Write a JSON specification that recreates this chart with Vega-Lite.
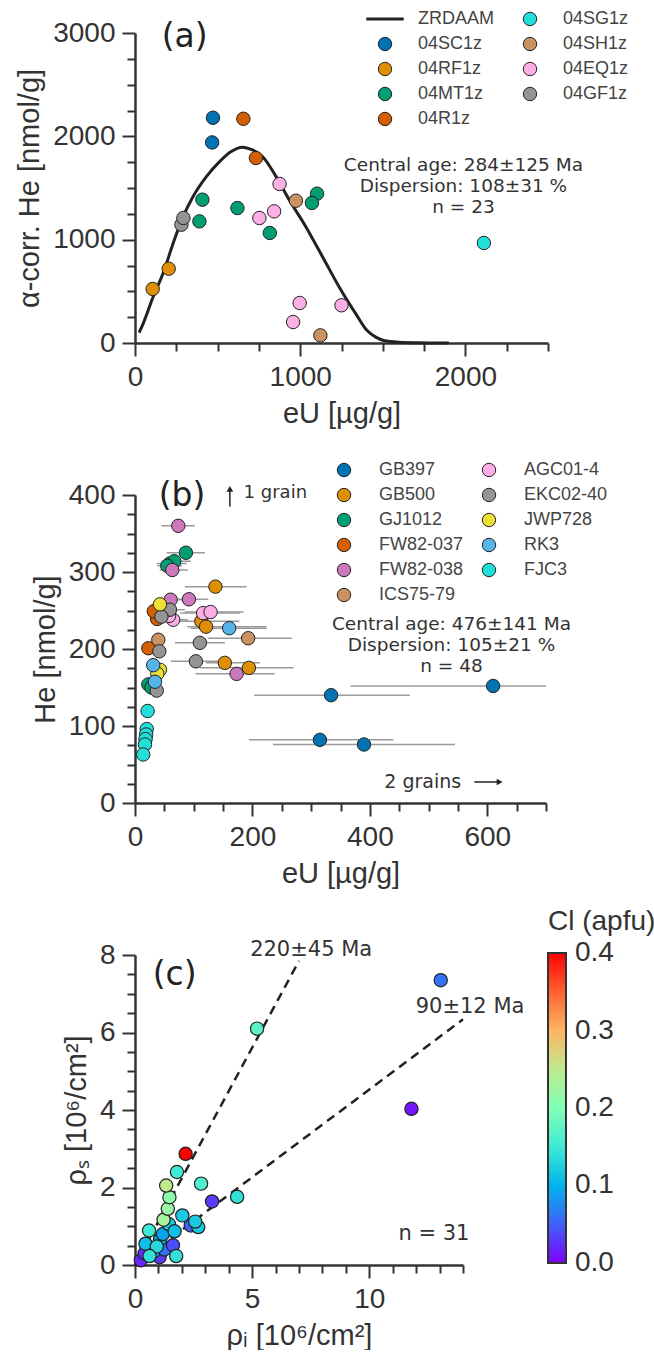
{
  "$schema": "https://vega.github.io/schema/vega-lite/v6.json",
  "background": "white",
  "padding": {"left": 15, "top": 10, "right": 0, "bottom": 0},
  "bounds": "flush",
  "spacing": 152,
  "config": {
    "view": {"stroke": null},
    "font": "Liberation Sans",
    "axis": {
      "domainColor": "#333", "domainWidth": 2.5,
      "tickColor": "#333", "tickWidth": 2, "tickSize": 13,
      "labelFont": "Liberation Sans", "labelFontSize": 28, "labelColor": "#333", "labelPadding": 7,
      "labelFlush": false, "labelOverlap": false, "format": "d",
      "titleFont": "Liberation Sans", "titleFontSize": 29, "titleFontWeight": "normal", "titleColor": "#333", "titlePadding": 8,
      "grid": false
    }
  },
  "datasets": {
    "zrdaam": [
      {"eU": 25, "He": 100}, {"eU": 50, "He": 190}, {"eU": 110, "He": 448}, {"eU": 170, "He": 675},
      {"eU": 231, "He": 965}, {"eU": 291, "He": 1223}, {"eU": 351, "He": 1416}, {"eU": 432, "He": 1610},
      {"eU": 512, "He": 1755}, {"eU": 580, "He": 1850}, {"eU": 650, "He": 1895}, {"eU": 711, "He": 1868},
      {"eU": 773, "He": 1803}, {"eU": 854, "He": 1610}, {"eU": 934, "He": 1384}, {"eU": 1034, "He": 1126},
      {"eU": 1135, "He": 835}, {"eU": 1235, "He": 545}, {"eU": 1335, "He": 287}, {"eU": 1405, "He": 120},
      {"eU": 1460, "He": 55}, {"eU": 1506, "He": 25}, {"eU": 1600, "He": 8}, {"eU": 1705, "He": 3}, {"eU": 1900, "He": 0}
    ],
    "grainsA": [
      {"sample": "04SC1z", "eU": 472, "He": 2180}, {"sample": "04SC1z", "eU": 467, "He": 1941},
      {"sample": "04RF1z", "eU": 204, "He": 719}, {"sample": "04RF1z", "eU": 107, "He": 523},
      {"sample": "04MT1z", "eU": 1102, "He": 1445}, {"sample": "04MT1z", "eU": 1071, "He": 1355},
      {"sample": "04MT1z", "eU": 408, "He": 1387}, {"sample": "04MT1z", "eU": 390, "He": 1177},
      {"sample": "04MT1z", "eU": 620, "He": 1306}, {"sample": "04MT1z", "eU": 816, "He": 1065},
      {"sample": "04R1z", "eU": 656, "He": 2170}, {"sample": "04R1z", "eU": 732, "He": 1790},
      {"sample": "04SG1z", "eU": 2112, "He": 968},
      {"sample": "04SH1z", "eU": 974, "He": 1377}, {"sample": "04SH1z", "eU": 1122, "He": 74},
      {"sample": "04EQ1z", "eU": 875, "He": 1539}, {"sample": "04EQ1z", "eU": 753, "He": 1210},
      {"sample": "04EQ1z", "eU": 842, "He": 1274}, {"sample": "04EQ1z", "eU": 997, "He": 387},
      {"sample": "04EQ1z", "eU": 957, "He": 203}, {"sample": "04EQ1z", "eU": 1250, "He": 365},
      {"sample": "04GF1z", "eU": 281, "He": 1145}, {"sample": "04GF1z", "eU": 293, "He": 1210}
    ],
    "notesA": [
      {"eU": 1988, "He": 1723, "note": "Central age: 284±125 Ma"},
      {"eU": 1988, "He": 1520, "note": "Dispersion: 108±31 %"},
      {"eU": 1988, "He": 1317, "note": "n = 23"}
    ],
    "grainsB": [
      {"sample": "GB397", "eU": 610, "He": 152, "lo": 367, "hi": 700},
      {"sample": "GB397", "eU": 334, "He": 140, "lo": 203, "hi": 468},
      {"sample": "GB397", "eU": 315, "He": 82, "lo": 194, "hi": 440},
      {"sample": "GB397", "eU": 390, "He": 76, "lo": 235, "hi": 545},
      {"sample": "GB500", "eU": 137, "He": 281, "lo": 85, "hi": 190},
      {"sample": "GB500", "eU": 113, "He": 236, "lo": 75, "hi": 178},
      {"sample": "GB500", "eU": 121, "He": 229, "lo": 89, "hi": 224},
      {"sample": "GB500", "eU": 153, "He": 182, "lo": 121, "hi": 213},
      {"sample": "GB500", "eU": 194, "He": 175.5, "lo": 110, "hi": 270},
      {"sample": "GB500", "eU": 38, "He": 248},
      {"sample": "GJ1012", "eU": 86.7, "He": 325, "lo": 54, "hi": 119},
      {"sample": "GJ1012", "eU": 59.5, "He": 311, "lo": 37, "hi": 88},
      {"sample": "GJ1012", "eU": 67, "He": 314, "lo": 45, "hi": 95},
      {"sample": "GJ1012", "eU": 55, "He": 308, "lo": 38, "hi": 80},
      {"sample": "GJ1012", "eU": 22.7, "He": 154},
      {"sample": "GJ1012", "eU": 28, "He": 150},
      {"sample": "FW82-037", "eU": 37.7, "He": 239},
      {"sample": "FW82-037", "eU": 32, "He": 249},
      {"sample": "FW82-037", "eU": 22.7, "He": 201},
      {"sample": "FW82-038", "eU": 73.7, "He": 360, "lo": 45, "hi": 102},
      {"sample": "FW82-038", "eU": 63.5, "He": 302.6, "lo": 42, "hi": 90},
      {"sample": "FW82-038", "eU": 60.7, "He": 264, "lo": 40, "hi": 85},
      {"sample": "FW82-038", "eU": 91.8, "He": 264.6, "lo": 60, "hi": 125},
      {"sample": "FW82-038", "eU": 173, "He": 167.7, "lo": 103, "hi": 238},
      {"sample": "ICS75-79", "eU": 192.7, "He": 214, "lo": 124, "hi": 267},
      {"sample": "ICS75-79", "eU": 39.7, "He": 212},
      {"sample": "AGC01-4", "eU": 65, "He": 238, "lo": 45, "hi": 90},
      {"sample": "AGC01-4", "eU": 116, "He": 246.6, "lo": 77, "hi": 179},
      {"sample": "AGC01-4", "eU": 128.7, "He": 248, "lo": 85, "hi": 185},
      {"sample": "AGC01-4", "eU": 58, "He": 243},
      {"sample": "EKC02-40", "eU": 59.5, "He": 251, "lo": 40, "hi": 85},
      {"sample": "EKC02-40", "eU": 110.5, "He": 208, "lo": 68, "hi": 153},
      {"sample": "EKC02-40", "eU": 103.7, "He": 184, "lo": 61, "hi": 153},
      {"sample": "EKC02-40", "eU": 41.4, "He": 197},
      {"sample": "EKC02-40", "eU": 37, "He": 146},
      {"sample": "EKC02-40", "eU": 45, "He": 242},
      {"sample": "JWP728", "eU": 42.5, "He": 258},
      {"sample": "JWP728", "eU": 42.5, "He": 173},
      {"sample": "JWP728", "eU": 38, "He": 168},
      {"sample": "RK3", "eU": 160.4, "He": 227, "lo": 95, "hi": 224},
      {"sample": "RK3", "eU": 31, "He": 179},
      {"sample": "RK3", "eU": 34, "He": 157.5},
      {"sample": "FJC3", "eU": 21.5, "He": 119.5},
      {"sample": "FJC3", "eU": 20, "He": 96},
      {"sample": "FJC3", "eU": 19, "He": 89},
      {"sample": "FJC3", "eU": 18, "He": 83},
      {"sample": "FJC3", "eU": 17, "He": 76},
      {"sample": "FJC3", "eU": 14, "He": 63}
    ],
    "notesB": [
      {"eU": 539, "He": 232.5, "note": "Central age: 476±141 Ma"},
      {"eU": 539, "He": 205, "note": "Dispersion: 105±21 %"},
      {"eU": 539, "He": 178, "note": "n = 48"}
    ],
    "grainsC": [
      {"ri": 13.05, "rs": 7.35, "Cl": 0.06},
      {"ri": 11.8, "rs": 4.03, "Cl": 0.01},
      {"ri": 5.21, "rs": 6.1, "Cl": 0.17},
      {"ri": 0.25, "rs": 0.12, "Cl": 0.02},
      {"ri": 1.05, "rs": 0.2, "Cl": 0.03},
      {"ri": 0.41, "rs": 0.3, "Cl": 0.02},
      {"ri": 0.8, "rs": 0.35, "Cl": 0.08},
      {"ri": 1.25, "rs": 0.4, "Cl": 0.06},
      {"ri": 1.62, "rs": 0.51, "Cl": 0.04},
      {"ri": 0.45, "rs": 0.55, "Cl": 0.11},
      {"ri": 1.07, "rs": 0.66, "Cl": 0.1},
      {"ri": 1.19, "rs": 0.8, "Cl": 0.09},
      {"ri": 2.38, "rs": 1.02, "Cl": 0.05},
      {"ri": 1.45, "rs": 1.05, "Cl": 0.12},
      {"ri": 0.93, "rs": 0.48, "Cl": 0.13},
      {"ri": 0.62, "rs": 0.23, "Cl": 0.14},
      {"ri": 1.76, "rs": 0.23, "Cl": 0.14},
      {"ri": 0.6, "rs": 0.89, "Cl": 0.15},
      {"ri": 1.69, "rs": 0.87, "Cl": 0.11},
      {"ri": 2.7, "rs": 0.98, "Cl": 0.12},
      {"ri": 2.57, "rs": 1.12, "Cl": 0.12},
      {"ri": 2.02, "rs": 1.28, "Cl": 0.12},
      {"ri": 1.22, "rs": 1.17, "Cl": 0.23},
      {"ri": 1.4, "rs": 1.45, "Cl": 0.22},
      {"ri": 1.47, "rs": 1.75, "Cl": 0.21},
      {"ri": 3.29, "rs": 1.64, "Cl": 0.03},
      {"ri": 4.36, "rs": 1.76, "Cl": 0.14},
      {"ri": 2.82, "rs": 2.1, "Cl": 0.16},
      {"ri": 1.33, "rs": 2.05, "Cl": 0.25},
      {"ri": 1.79, "rs": 2.4, "Cl": 0.15},
      {"ri": 2.16, "rs": 2.87, "Cl": 0.4}
    ],
    "isochrons": [
      {"line": "220 Ma", "ri": 0, "rs": 0}, {"line": "220 Ma", "ri": 7.0, "rs": 7.85},
      {"line": "90 Ma", "ri": 0, "rs": 0}, {"line": "90 Ma", "ri": 14, "rs": 6.34}
    ],
    "notesC": [
      {"ri": 7.52, "rs": 8.13, "note": "220±45 Ma"},
      {"ri": 14.3, "rs": 6.66, "note": "90±12 Ma"},
      {"ri": 12.76, "rs": 0.8, "note": "n = 31"}
    ]
  },
  "vconcat": [
    {
      "width": 413,
      "height": 310,
      "resolve": {"axis": {"x": "independent", "y": "independent"}},
      "layer": [
        {
          "data": {"name": "zrdaam"},
          "mark": {"type": "line", "color": "#222", "strokeWidth": 3, "interpolate": "monotone"},
          "encoding": {
            "x": {"field": "eU", "type": "quantitative", "scale": {"domain": [0, 2500], "nice": false},
                  "axis": {"orient": "bottom", "values": [250, 500, 750, 1250, 1500, 1750, 2250, 2500], "labels": false, "domain": false, "tickSize": 8, "title": null}},
            "y": {"field": "He", "type": "quantitative", "scale": {"domain": [0, 3000], "nice": false},
                  "axis": {"orient": "left", "values": [250, 500, 750, 1250, 1500, 1750, 2250, 2500, 2750], "labels": false, "domain": false, "tickSize": 8, "title": null}}
          }
        },
        {
          "data": {"name": "grainsA"},
          "mark": {"type": "point", "shape": "circle", "filled": true, "size": 180, "stroke": "#222", "strokeWidth": 1, "opacity": 1},
          "encoding": {
            "x": {"field": "eU", "type": "quantitative", "scale": {"domain": [0, 2500], "nice": false},
                  "axis": {"orient": "bottom", "values": [0, 1000, 2000], "title": "eU [µg/g]"}},
            "y": {"field": "He", "type": "quantitative", "scale": {"domain": [0, 3000], "nice": false},
                  "axis": {"orient": "left", "values": [0, 1000, 2000, 3000], "title": "α-corr. He [nmol/g]"}},
            "color": {
              "field": "sample", "type": "nominal",
              "scale": {
                "domain": ["ZRDAAM", "04SC1z", "04RF1z", "04MT1z", "04R1z", "04SG1z", "04SH1z", "04EQ1z", "04GF1z"],
                "range": ["#222222", "#0173b2", "#de8f05", "#029e73", "#d55e00", "#22e0d9", "#ca9161", "#fbafe4", "#949494"]
              },
              "legend": {
                "title": null, "orient": "none", "legendX": 241, "legendY": -23,
                "columns": 2, "columnPadding": 27, "rowPadding": 7, "padding": 0,
                "symbolSize": 180, "symbolType": "circle", "symbolStrokeColor": "#222", "symbolStrokeWidth": 1, "symbolOpacity": 1,
                "labelFont": "Liberation Sans", "labelFontSize": 18, "labelColor": "#444", "labelOffset": 24,
                "encode": {
                  "symbols": {
                    "update": {
                      "shape": {"signal": "datum.value === 'ZRDAAM' ? 'stroke' : 'circle'"},
                      "size": {"signal": "datum.value === 'ZRDAAM' ? 1400 : 180"},
                      "strokeWidth": {"signal": "datum.value === 'ZRDAAM' ? 3 : 1"},
                      "stroke": {"value": "#222"}
                    }
                  }
                }
              }
            }
          }
        },
        {
          "data": {"name": "notesA"},
          "mark": {"type": "text", "font": "DejaVu Sans", "fontSize": 18.5, "color": "#333", "align": "center", "baseline": "middle"},
          "encoding": {
            "x": {"field": "eU", "type": "quantitative", "axis": null},
            "y": {"field": "He", "type": "quantitative", "axis": null},
            "text": {"field": "note"}
          }
        },
        {
          "data": {"values": [{"eU": 301, "He": 2962, "note": "(a)"}]},
          "mark": {"type": "text", "font": "DejaVu Sans", "fontSize": 33, "color": "#222", "align": "center", "baseline": "middle"},
          "encoding": {
            "x": {"field": "eU", "type": "quantitative", "axis": null},
            "y": {"field": "He", "type": "quantitative", "axis": null},
            "text": {"field": "note"}
          }
        }
      ]
    },
    {
      "width": 411,
      "height": 308,
      "resolve": {"axis": {"x": "independent", "y": "independent"}},
      "layer": [
        {
          "data": {"name": "grainsB"},
          "transform": [{"filter": "isValid(datum.lo)"}],
          "mark": {"type": "rule", "color": "#9a9a9a", "strokeWidth": 1.5, "clip": true},
          "encoding": {
            "x": {"field": "lo", "type": "quantitative", "scale": {"domain": [0, 700], "nice": false},
                  "axis": {"orient": "bottom", "values": [50, 100, 150, 250, 300, 350, 450, 500, 550, 650, 700], "labels": false, "domain": false, "tickSize": 8, "title": null}},
            "x2": {"field": "hi"},
            "y": {"field": "He", "type": "quantitative", "scale": {"domain": [0, 400], "nice": false},
                  "axis": {"orient": "left", "values": [25, 50, 75, 125, 150, 175, 225, 250, 275, 325, 350, 375], "labels": false, "domain": false, "tickSize": 8, "title": null}}
          }
        },
        {
          "data": {"name": "grainsB"},
          "mark": {"type": "point", "shape": "circle", "filled": true, "size": 180, "stroke": "#222", "strokeWidth": 1, "opacity": 1},
          "encoding": {
            "x": {"field": "eU", "type": "quantitative", "scale": {"domain": [0, 700], "nice": false},
                  "axis": {"orient": "bottom", "values": [0, 200, 400, 600], "title": "eU [µg/g]"}},
            "y": {"field": "He", "type": "quantitative", "scale": {"domain": [0, 400], "nice": false},
                  "axis": {"orient": "left", "values": [0, 100, 200, 300, 400], "title": "He [nmol/g]"}},
            "color": {
              "field": "sample", "type": "nominal",
              "scale": {
                "domain": ["GB397", "GB500", "GJ1012", "FW82-037", "FW82-038", "ICS75-79", "AGC01-4", "EKC02-40", "JWP728", "RK3", "FJC3"],
                "range": ["#0173b2", "#de8f05", "#029e73", "#d55e00", "#cc78bc", "#ca9161", "#fbafe4", "#949494", "#ece133", "#56b4e9", "#22e0d9"]
              },
              "legend": {
                "title": null, "orient": "none", "legendX": 200, "legendY": -34,
                "columns": 2, "columnPadding": 16, "rowPadding": 7, "padding": 0,
                "symbolSize": 180, "symbolType": "circle", "symbolStrokeColor": "#222", "symbolStrokeWidth": 1, "symbolOpacity": 1,
                "labelFont": "Liberation Sans", "labelFontSize": 18, "labelColor": "#444", "labelOffset": 26
              }
            }
          }
        },
        {
          "data": {"name": "notesB"},
          "mark": {"type": "text", "font": "DejaVu Sans", "fontSize": 18.5, "color": "#333", "align": "center", "baseline": "middle"},
          "encoding": {
            "x": {"field": "eU", "type": "quantitative", "axis": null},
            "y": {"field": "He", "type": "quantitative", "axis": null},
            "text": {"field": "note"}
          }
        },
        {
          "data": {"values": [{"eU": 185, "He": 402, "note": "1 grain"}]},
          "mark": {"type": "text", "font": "DejaVu Sans", "fontSize": 18, "color": "#333", "align": "left", "baseline": "middle"},
          "encoding": {
            "x": {"field": "eU", "type": "quantitative", "axis": null},
            "y": {"field": "He", "type": "quantitative", "axis": null},
            "text": {"field": "note"}
          }
        },
        {
          "data": {"values": [{"eU": 490, "He": 27.3, "note": "2 grains"}]},
          "mark": {"type": "text", "font": "DejaVu Sans", "fontSize": 19, "color": "#333", "align": "center", "baseline": "middle"},
          "encoding": {
            "x": {"field": "eU", "type": "quantitative", "axis": null},
            "y": {"field": "He", "type": "quantitative", "axis": null},
            "text": {"field": "note"}
          }
        },
        {
          "data": {"values": [
            {"eU": 161.6, "He": 385, "eU2": 161.6, "He2": 406},
            {"eU": 578, "He": 27.3, "eU2": 619, "He2": 27.3}
          ]},
          "mark": {"type": "rule", "color": "#222", "strokeWidth": 1.5},
          "encoding": {
            "x": {"field": "eU", "type": "quantitative", "axis": null},
            "x2": {"field": "eU2"},
            "y": {"field": "He", "type": "quantitative", "axis": null},
            "y2": {"field": "He2"}
          }
        },
        {
          "data": {"values": [{"eU": 161.6, "He": 408}]},
          "mark": {"type": "point", "shape": "triangle-up", "filled": true, "size": 45, "color": "#222", "opacity": 1},
          "encoding": {
            "x": {"field": "eU", "type": "quantitative", "axis": null},
            "y": {"field": "He", "type": "quantitative", "axis": null}
          }
        },
        {
          "data": {"values": [{"eU": 621, "He": 27.3}]},
          "mark": {"type": "point", "shape": "triangle-right", "filled": true, "size": 45, "color": "#222", "opacity": 1},
          "encoding": {
            "x": {"field": "eU", "type": "quantitative", "axis": null},
            "y": {"field": "He", "type": "quantitative", "axis": null}
          }
        },
        {
          "data": {"values": [{"eU": 80, "He": 398.7, "note": "(b)"}]},
          "mark": {"type": "text", "font": "DejaVu Sans", "fontSize": 33, "color": "#222", "align": "center", "baseline": "middle"},
          "encoding": {
            "x": {"field": "eU", "type": "quantitative", "axis": null},
            "y": {"field": "He", "type": "quantitative", "axis": null},
            "text": {"field": "note"}
          }
        }
      ]
    },
    {
      "width": 328,
      "height": 310,
      "resolve": {"axis": {"x": "independent", "y": "independent"}},
      "layer": [
        {
          "data": {"name": "isochrons"},
          "mark": {"type": "line", "color": "#222", "strokeWidth": 2.5, "strokeDash": [9, 6]},
          "encoding": {
            "x": {"field": "ri", "type": "quantitative", "scale": {"domain": [0, 14], "nice": false},
                  "axis": {"orient": "bottom", "values": [1, 2, 3, 4, 6, 7, 8, 9, 11, 12, 13, 14], "labels": false, "domain": false, "tickSize": 8, "title": null}},
            "y": {"field": "rs", "type": "quantitative", "scale": {"domain": [0, 8], "nice": false},
                  "axis": {"orient": "left", "values": [0.5, 1, 1.5, 2.5, 3, 3.5, 4.5, 5, 5.5, 6.5, 7, 7.5], "labels": false, "domain": false, "tickSize": 8, "title": null}},
            "detail": {"field": "line"}
          }
        },
        {
          "data": {"name": "grainsC"},
          "mark": {"type": "point", "shape": "circle", "filled": true, "size": 175, "stroke": "#222", "strokeWidth": 1.2, "opacity": 1},
          "encoding": {
            "x": {"field": "ri", "type": "quantitative", "scale": {"domain": [0, 14], "nice": false},
                  "axis": {"orient": "bottom", "values": [0, 5, 10], "title": "ρᵢ [10⁶/cm²]"}},
            "y": {"field": "rs", "type": "quantitative", "scale": {"domain": [0, 8], "nice": false},
                  "axis": {"orient": "left", "values": [0, 2, 4, 6, 8], "title": "ρₛ [10⁶/cm²]"}},
            "color": {
              "field": "Cl", "type": "quantitative",
              "scale": {
                "domain": [-0.0002, 0.05, 0.1, 0.15, 0.2, 0.25, 0.3, 0.35, 0.4002],
                "range": ["#8000ff", "#4062fa", "#00b4eb", "#40ebd4", "#80ffb4", "#bfeb8e", "#ffb462", "#ff6232", "#ff0000"],
                "interpolate": "rgb"
              },
              "legend": {
                "title": "Cl (apfu)", "orient": "none", "legendX": 413, "legendY": -47,
                "direction": "vertical", "gradientLength": 310, "gradientThickness": 18,
                "gradientStrokeColor": "#333", "gradientStrokeWidth": 2,
                "values": [0, 0.1, 0.2, 0.3, 0.4], "format": ".1f",
                "labelFont": "Liberation Sans", "labelFontSize": 28, "labelColor": "#333", "labelOffset": 9, "labelOverlap": false,
                "titleFont": "Liberation Sans", "titleFontSize": 28, "titleFontWeight": "normal", "titleColor": "#333",
                "titlePadding": 17, "padding": 0,
                "encode": {
                  "title": {"update": {"dx": {"value": -22}}}
                }
              }
            }
          }
        },
        {
          "data": {"name": "notesC"},
          "mark": {"type": "text", "font": "DejaVu Sans", "fontSize": 21, "color": "#333", "align": "center", "baseline": "middle"},
          "encoding": {
            "x": {"field": "ri", "type": "quantitative", "axis": null},
            "y": {"field": "rs", "type": "quantitative", "axis": null},
            "text": {"field": "note"}
          }
        },
        {
          "data": {"values": [{"ri": 1.69, "rs": 7.48, "note": "(c)"}]},
          "mark": {"type": "text", "font": "DejaVu Sans", "fontSize": 33, "color": "#222", "align": "center", "baseline": "middle"},
          "encoding": {
            "x": {"field": "ri", "type": "quantitative", "axis": null},
            "y": {"field": "rs", "type": "quantitative", "axis": null},
            "text": {"field": "note"}
          }
        }
      ]
    }
  ]
}
